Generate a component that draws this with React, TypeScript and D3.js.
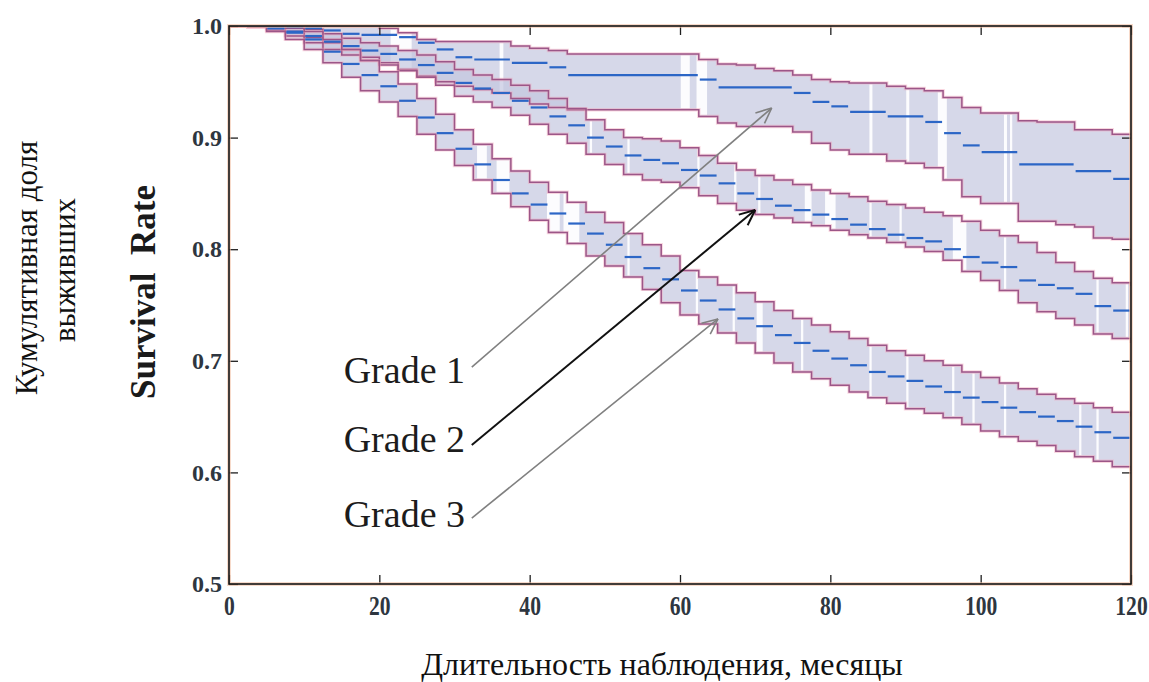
import React, { useEffect, useRef } from 'react';
import * as d3 from 'd3';

// follow-up time grid (months)
const months = [0, 2.5, 5, 7.5, 10, 12.5, 15, 17.5, 20, 22.5, 25, 27.5, 30, 32.5, 35, 37.5, 40, 42.5, 45, 47.5, 50, 52.5, 55, 57.5, 60, 62.5, 65, 67.5, 70, 72.5, 75, 77.5, 80, 82.5, 85, 87.5, 90, 92.5, 95, 97.5, 100, 102.5, 105, 107.5, 110, 112.5, 115, 117.5, 120];

const grade1Mid = [1.0, 1.0, 1.0, 0.999, 0.998, 0.996, 0.993, 0.992, 0.992, 0.99, 0.985, 0.979, 0.972, 0.97, 0.97, 0.967, 0.967, 0.963, 0.956, 0.956, 0.956, 0.956, 0.956, 0.956, 0.956, 0.952, 0.945, 0.945, 0.945, 0.945, 0.94, 0.932, 0.928, 0.923, 0.923, 0.919, 0.919, 0.914, 0.904, 0.893, 0.887, 0.887, 0.876, 0.876, 0.876, 0.87, 0.87, 0.863, 0.863];
const grade1Hi = [1.0, 1.0, 1.0, 1.0, 1.0, 1.0, 1.0, 1.0, 0.998, 0.994, 0.988, 0.986, 0.986, 0.986, 0.986, 0.982, 0.98, 0.978, 0.975, 0.975, 0.975, 0.975, 0.975, 0.975, 0.975, 0.97, 0.966, 0.965, 0.962, 0.96, 0.956, 0.952, 0.95, 0.949, 0.949, 0.946, 0.944, 0.942, 0.936, 0.927, 0.922, 0.922, 0.915, 0.914, 0.914, 0.907, 0.907, 0.903, 0.903];
const grade1Lo = [1.0, 1.0, 0.998, 0.995, 0.99, 0.985, 0.979, 0.972, 0.967, 0.961, 0.955, 0.95, 0.946, 0.943, 0.94, 0.935, 0.93, 0.927, 0.925, 0.925, 0.925, 0.925, 0.925, 0.925, 0.925, 0.919, 0.913, 0.91, 0.91, 0.91, 0.905, 0.895, 0.889, 0.885, 0.885, 0.879, 0.877, 0.873, 0.862, 0.847, 0.841, 0.841, 0.825, 0.825, 0.822, 0.82, 0.81, 0.809, 0.809];

const grade2Mid = [1.0, 1.0, 0.998, 0.995, 0.991, 0.986, 0.982, 0.978, 0.975, 0.97, 0.965, 0.958, 0.949, 0.944, 0.94, 0.933, 0.927, 0.919, 0.911, 0.9, 0.892, 0.884, 0.88, 0.877, 0.871, 0.866, 0.859, 0.85, 0.845, 0.839, 0.835, 0.831, 0.827, 0.822, 0.818, 0.813, 0.81, 0.807, 0.8, 0.793, 0.788, 0.784, 0.772, 0.768, 0.765, 0.76, 0.749, 0.745, 0.742];
const grade2Hi = [1.0, 1.0, 1.0, 0.999, 0.997, 0.993, 0.989, 0.985, 0.982, 0.978, 0.974, 0.968, 0.961, 0.956, 0.952, 0.947, 0.942, 0.935, 0.926, 0.916, 0.907, 0.9, 0.899, 0.897, 0.891, 0.884, 0.877, 0.871, 0.866, 0.862, 0.858, 0.853, 0.85, 0.847, 0.843, 0.84, 0.837, 0.833, 0.83, 0.825, 0.817, 0.812, 0.806, 0.797, 0.788, 0.78, 0.774, 0.77, 0.767];
const grade2Lo = [1.0, 0.999, 0.996, 0.991, 0.985, 0.979, 0.974, 0.969, 0.965, 0.96, 0.954, 0.947, 0.937, 0.932, 0.927, 0.92, 0.912, 0.903, 0.895, 0.885, 0.876, 0.867, 0.862, 0.86, 0.855, 0.848, 0.841, 0.835, 0.831, 0.828, 0.824, 0.821, 0.817, 0.813, 0.81, 0.806, 0.802, 0.798, 0.79, 0.78, 0.772, 0.763, 0.752, 0.744, 0.738, 0.732, 0.724, 0.72, 0.716];

const grade3Mid = [1.0, 1.0, 0.998, 0.994, 0.988, 0.977, 0.966, 0.956, 0.946, 0.933, 0.918, 0.904, 0.89, 0.876, 0.862, 0.85, 0.84, 0.832, 0.823, 0.814, 0.804, 0.793, 0.783, 0.773, 0.763, 0.754, 0.746, 0.738, 0.731, 0.723, 0.716, 0.709, 0.702, 0.696, 0.69, 0.686, 0.682, 0.677, 0.672, 0.667, 0.663, 0.658, 0.654, 0.65, 0.646, 0.641, 0.636, 0.631, 0.625];
const grade3Hi = [1.0, 1.0, 1.0, 0.998, 0.995, 0.988, 0.979, 0.969, 0.959, 0.948, 0.935, 0.921, 0.907, 0.894, 0.881, 0.87, 0.86, 0.851, 0.842, 0.833, 0.824, 0.814, 0.804, 0.794, 0.781, 0.775, 0.768, 0.761, 0.753, 0.745, 0.738, 0.732, 0.726, 0.72, 0.714, 0.709, 0.705, 0.7, 0.696, 0.69, 0.685, 0.68, 0.675, 0.67, 0.666, 0.662, 0.658, 0.654, 0.65];
const grade3Lo = [1.0, 0.999, 0.995, 0.988, 0.979, 0.967, 0.954, 0.942, 0.932, 0.919, 0.903, 0.889, 0.875, 0.862, 0.85, 0.838, 0.826, 0.815, 0.805, 0.794, 0.785, 0.775, 0.764, 0.752, 0.741, 0.733, 0.725, 0.716, 0.707, 0.698, 0.69, 0.684, 0.678, 0.672, 0.667, 0.662, 0.657, 0.653, 0.649, 0.643, 0.637, 0.632, 0.628, 0.624, 0.619, 0.614, 0.61, 0.605, 0.601];

// censoring gaps inside the bands [from, to] in months
const grade1Gaps = [[21.5, 24.3], [36, 36.5], [60.1, 61.3], [62.2, 63.6], [85.2, 85.6], [90.1, 90.5], [94.3, 95.5], [103.1, 103.5], [103.9, 104.2]];
const grade2Gaps = [[48, 48.3], [53, 53.3], [62.3, 62.6], [67.2, 67.5], [70.4, 70.7], [76.6, 77.5], [79.3, 80.7], [85.2, 85.5], [89.2, 89.5], [96.3, 98.1], [103.1, 103.4], [115.4, 115.7], [119.3, 119.6]];
const grade3Gaps = [[33, 34.3], [35.6, 37.3], [42.3, 44], [44.5, 46.6], [53, 53.3], [62.1, 62.4], [67, 67.3], [70.2, 71], [76.1, 76.4], [85.2, 85.5], [90.1, 90.4], [96.2, 96.5], [98.9, 99.2], [103.1, 103.4], [113.1, 113.4], [115.4, 115.7]];

const gradeNames = ['Grade 1', 'Grade 2', 'Grade 3'];
// arrow tails / tips and label anchors, in data units [month, rate]
const labelAt = [[31.4, 0.68], [31.4, 0.6183], [31.4, 0.5511]];
const arrowTail = [[32.3, 0.6944], [32.3, 0.6246], [32.3, 0.5591]];
const arrowTip = [[72.2, 0.9265], [70.0, 0.8351], [65.05, 0.7375]];
const arrowColor = ['#808080', '#111111', '#808080'];

const xMajor = [0, 20, 40, 60, 80, 100, 120];
const yMajor = [0.5, 0.6, 0.7, 0.8, 0.9, 1.0];

const W = 1149;
const H = 682;

const App = () => {
  const ref = useRef<SVGSVGElement | null>(null);

  useEffect(() => {
    if (!ref.current) return;
    const svg = d3.select(ref.current);
    svg.selectAll('*').remove();

    const x = d3.scaleLinear().domain([0, 120]).range([229, 1131]);
    const y = d3.scaleLinear().domain([0.5, 1]).range([584, 26]);
    const serif = '"Liberation Serif", "DejaVu Serif", serif';

    const grades = [
      { mid: grade1Mid, hi: grade1Hi, lo: grade1Lo, gaps: grade1Gaps },
      { mid: grade2Mid, hi: grade2Hi, lo: grade2Lo, gaps: grade2Gaps },
      { mid: grade3Mid, hi: grade3Hi, lo: grade3Lo, gaps: grade3Gaps },
    ];

    svg.append('defs').append('clipPath').attr('id', 'plotClip')
      .append('rect')
      .attr('x', x(0)).attr('y', y(1))
      .attr('width', x(120) - x(0)).attr('height', y(0.5) - y(1));

    const plot = svg.append('g').attr('clip-path', 'url(#plotClip)');

    // bands + censoring gaps
    grades.forEach((g) => {
      const area = d3.area<number>()
        .x((_, i) => x(months[i]))
        .y0((_, i) => y(g.lo[i]))
        .y1((_, i) => y(g.hi[i]))
        .curve(d3.curveStepAfter);
      plot.append('path')
        .datum(g.mid)
        .attr('d', area)
        .attr('fill', '#c3c6df')
        .attr('fill-opacity', 0.68);

      g.gaps.forEach(([a, b]) => {
        const i = d3.bisectRight(months, a) - 1;
        const j = d3.bisectRight(months, b) - 1;
        const top = y(g.hi[i]) + 1.5;
        const bot = y(g.lo[j]) - 1.5;
        plot.append('rect')
          .attr('x', x(a)).attr('width', Math.max(1.8, x(b) - x(a)))
          .attr('y', top).attr('height', Math.max(0, bot - top))
          .attr('fill', '#ffffff').attr('fill-opacity', 0.92);
      });
    });

    // band edges
    grades.forEach((g) => {
      [g.hi, g.lo].forEach((vals) => {
        const line = d3.line<number>()
          .x((_, i) => x(months[i]))
          .y((d) => y(d))
          .curve(d3.curveStepAfter);
        plot.append('path').datum(vals).attr('d', line)
          .attr('fill', 'none').attr('stroke', '#f2a6ba')
          .attr('stroke-width', 3.4).attr('stroke-opacity', 0.45);
        plot.append('path').datum(vals).attr('d', line)
          .attr('fill', 'none').attr('stroke', '#9c5688')
          .attr('stroke-width', 1.5);
      });
    });

    // survival estimate: horizontal steps only
    grades.forEach((g) => {
      let i = 0;
      while (i < months.length - 1) {
        let j = i + 1;
        while (j < months.length - 1 && g.mid[j] === g.mid[i]) j++;
        plot.append('path')
          .attr('d', `M${x(months[i]) + 1},${y(g.mid[i])}H${x(months[j]) - 1}`)
          .attr('stroke', '#2c66c6')
          .attr('stroke-width', 2.2)
          .attr('fill', 'none');
        i = j;
      }
    });

    // axes
    const styleAxis = (sel: d3.Selection<SVGGElement, unknown, null, undefined>) => {
      sel.select('.domain').remove();
      sel.selectAll('line').attr('stroke', '#1f1f1f').attr('stroke-width', 1.3);
    };

    const bottom = svg.append('g').attr('transform', `translate(0,${y(0.5)})`);
    bottom.call(d3.axisBottom(x).ticks(24).tickSize(-5).tickFormat(() => ''));
    bottom.call(d3.axisBottom(x).tickValues(xMajor).tickSize(-9).tickPadding(12).tickFormat(d3.format('d')));
    styleAxis(bottom);

    const top = svg.append('g').attr('transform', `translate(0,${y(1)})`);
    top.call(d3.axisTop(x).ticks(24).tickSize(-5).tickFormat(() => ''));
    top.call(d3.axisTop(x).tickValues(xMajor).tickSize(-9).tickFormat(() => ''));
    styleAxis(top);

    const left = svg.append('g').attr('transform', `translate(${x(0)},0)`);
    left.call(d3.axisLeft(y).ticks(25).tickSize(-5).tickFormat(() => ''));
    left.call(d3.axisLeft(y).tickValues(yMajor).tickSize(-9).tickPadding(7).tickFormat(d3.format('.1f')));
    styleAxis(left);

    const right = svg.append('g').attr('transform', `translate(${x(120)},0)`);
    right.call(d3.axisRight(y).ticks(25).tickSize(-5).tickFormat(() => ''));
    right.call(d3.axisRight(y).tickValues(yMajor).tickSize(-9).tickFormat(() => ''));
    styleAxis(right);

    // x labels are narrow in the original, squeeze them a little
    bottom.selectAll('text')
      .attr('font-family', serif)
      .attr('font-size', 27).attr('font-weight', 'bold').attr('fill', '#2e3640')
      .attr('transform', 'scale(0.8,1)');
    left.selectAll('text')
      .attr('font-family', serif)
      .attr('font-size', 24).attr('font-weight', 'bold').attr('fill', '#2e3640');

    // frame
    svg.append('rect')
      .attr('x', x(0)).attr('y', y(1))
      .attr('width', x(120) - x(0)).attr('height', y(0.5) - y(1))
      .attr('fill', 'none').attr('stroke', '#f2c2a6').attr('stroke-width', 4).attr('stroke-opacity', 0.6);
    svg.append('rect')
      .attr('x', x(0)).attr('y', y(1))
      .attr('width', x(120) - x(0)).attr('height', y(0.5) - y(1))
      .attr('fill', 'none').attr('stroke', '#141414').attr('stroke-width', 1.6);

    // annotations
    gradeNames.forEach((name, k) => {
      const [tx, ty] = [x(arrowTail[k][0]), y(arrowTail[k][1])];
      const [hx, hy] = [x(arrowTip[k][0]), y(arrowTip[k][1])];
      const w = k === 1 ? 2 : 1.6;
      svg.append('line')
        .attr('x1', tx).attr('y1', ty).attr('x2', hx).attr('y2', hy)
        .attr('stroke', arrowColor[k]).attr('stroke-width', w);
      const ang = Math.atan2(hy - ty, hx - tx);
      const len = 17;
      [-0.42, 0.42].forEach((da) => {
        svg.append('line')
          .attr('x1', hx).attr('y1', hy)
          .attr('x2', hx - len * Math.cos(ang + da)).attr('y2', hy - len * Math.sin(ang + da))
          .attr('stroke', arrowColor[k]).attr('stroke-width', w);
      });
      svg.append('text')
        .attr('x', x(labelAt[k][0])).attr('y', y(labelAt[k][1]))
        .attr('text-anchor', 'end')
        .attr('font-family', serif)
        .attr('font-size', 38).attr('fill', '#1c1c1c')
        .text(name);
    });

    // axis titles
    svg.append('text')
      .attr('transform', 'translate(37,268) rotate(-90)')
      .attr('text-anchor', 'middle').attr('font-family', serif).attr('font-size', 31).attr('fill', '#111')
      .text('Кумулятивная доля');
    svg.append('text')
      .attr('transform', 'translate(75,270) rotate(-90)')
      .attr('text-anchor', 'middle').attr('font-family', serif).attr('font-size', 31).attr('fill', '#111')
      .text('выживших');
    svg.append('text')
      .attr('transform', 'translate(155,292) rotate(-90)')
      .attr('text-anchor', 'middle').attr('font-family', serif).attr('font-size', 35)
      .attr('font-weight', 'bold').attr('fill', '#1a1a1a')
      .style('white-space', 'pre')
      .text('Survival  Rate');
    svg.append('text')
      .attr('x', 662).attr('y', 675)
      .attr('text-anchor', 'middle').attr('font-family', serif).attr('font-size', 32).attr('fill', '#111')
      .text('Длительность наблюдения, месяцы');
  }, []);

  return (
    <svg
      ref={ref}
      width={W}
      height={H}
      style={{ position: 'absolute', left: 0, top: 0, background: '#fff' }}
    />
  );
};

export default App;
